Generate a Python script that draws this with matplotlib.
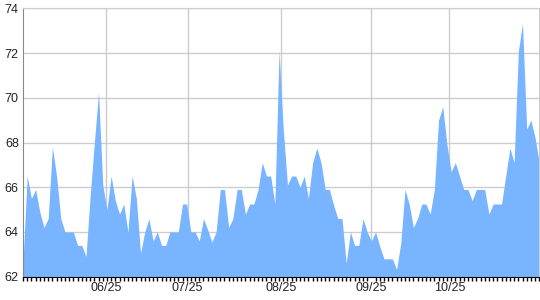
"""
Area chart of a daily reading, May to November
"""

import matplotlib
matplotlib.use("Agg")
import matplotlib.pyplot as plt
import numpy as np

plt.rcParams['font.family'] = ['Liberation Sans', 'DejaVu Sans']

# readings, one per sample point
values = [
    62.7, 66.5, 65.5, 65.9, 64.9, 64.2, 64.6, 67.8, 66.5, 64.6,
    64.0, 64.0, 64.0, 63.4, 63.4, 62.9, 65.6, 68.0, 70.25, 66.1,
    65.0, 66.5, 65.4, 64.8, 65.25, 64.0, 66.5, 65.5, 63.05, 64.0,
    64.6, 63.6, 64.0, 63.4, 63.4, 64.0, 64.0, 64.0, 65.25, 65.25,
    64.0, 64.0, 63.6, 64.6, 64.1, 63.55, 64.0, 65.9, 65.9, 64.2,
    64.6, 65.9, 65.9, 64.8, 65.25, 65.25, 65.9, 67.1, 66.5, 66.5,
    65.25, 72.1, 68.6, 66.1, 66.5, 66.5, 66.0, 66.5, 65.5, 67.1,
    67.75, 67.1, 65.9, 65.9, 65.2, 64.6, 64.6, 62.6, 64.0, 63.4,
    63.4, 64.6, 64.0, 63.6, 64.0, 63.35, 62.8, 62.8, 62.8, 62.33,
    63.5, 65.9, 65.25, 64.2, 64.6, 65.25, 65.25, 64.8, 65.9, 69.0,
    69.6, 67.9, 66.7, 67.1, 66.5, 65.9, 65.9, 65.4, 65.9, 65.9,
    65.9, 64.8, 65.25, 65.25, 65.25, 66.5, 67.75, 67.1, 72.06, 73.33,
    68.6, 69.0, 68.2, 67.1,
]

# date labels and the sample index they sit at
tick_labels = ['06/25', '07/25', '08/25', '09/25', '10/25']
tick_pos = [19.7, 39.2, 61.5, 83.0, 101.6]

y_min, y_max = 62, 74

x = np.arange(len(values))
v = np.array(values)

fig = plt.figure(figsize=(5.4, 3.0), dpi=100)
ax = fig.add_axes([23 / 540, 23.3 / 300, 516.3 / 540, 268.4 / 300])

ax.fill_between(x, y_min, v, color='#78b4ff', lw=0, zorder=2)

ax.set_xlim(0, len(values) - 1)
ax.set_ylim(y_min, y_max)

ax.set_yticks(np.arange(y_min, y_max + 1, 2))
ax.set_xticks(tick_pos)
ax.set_xticklabels(tick_labels)
ax.set_xticks(x, minor=True)

ax.grid(True, which='major', color='#cccccc', lw=1)
ax.set_axisbelow(True)

ax.tick_params(axis='y', length=0, pad=3, labelsize=9, colors='#222222')
ax.tick_params(axis='x', which='major', length=0, pad=4, labelsize=9,
               colors='#222222')
ax.tick_params(axis='x', which='minor', length=3, width=1, color='black',
               direction='out')

for side in ('top', 'right'):
  ax.spines[side].set_color('#cccccc')
ax.spines['left'].set_color('#888888')
ax.spines['bottom'].set_color('black')

fig.savefig('out.png', dpi=100)
